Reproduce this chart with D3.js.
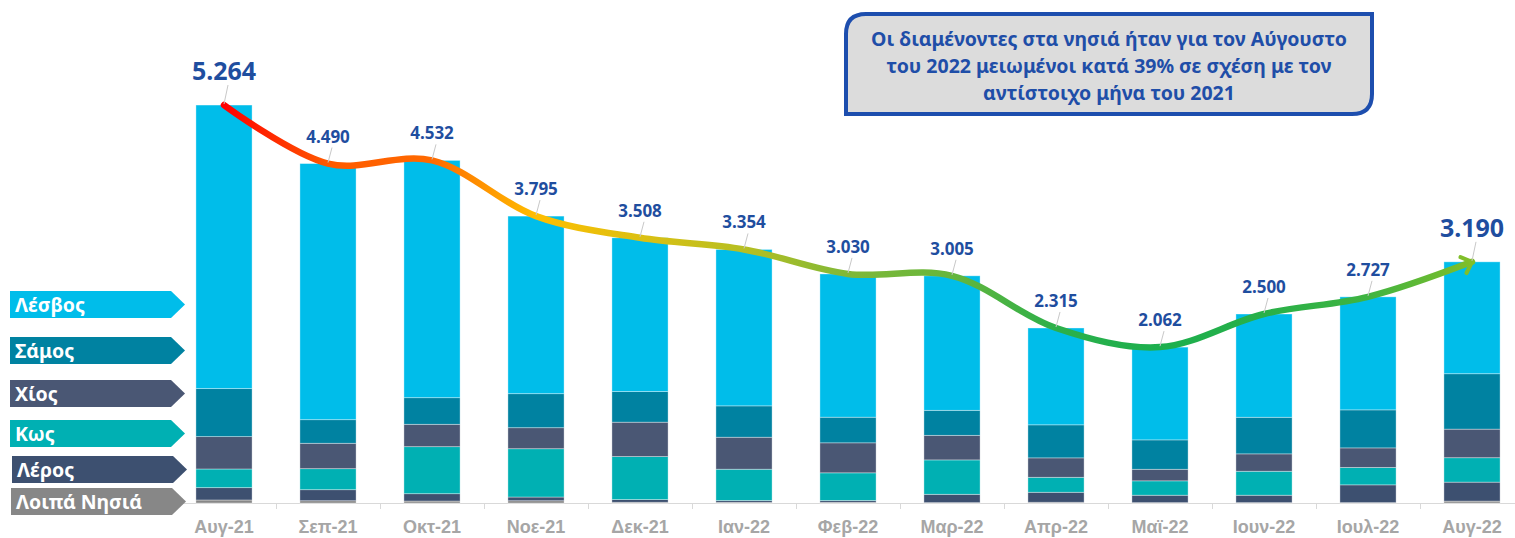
<!DOCTYPE html>
<meta charset="utf-8">
<title>Διαμένοντες στα νησιά</title>
<style>
html, body {
  margin: 0;
  padding: 0;
  width: 1515px;
  height: 538px;
  background: #fff;
  overflow: hidden;
}
svg {
  font-family: "Noto Sans", "Open Sans", sans-serif;
}
.axis text {
  fill: #a6a6a6;
  font-weight: bold;
  font-size: 18px;
}
.value {
  fill: #1f4e9f;
  font-weight: bold;
  text-anchor: middle;
}
.note text {
  fill: #1f4ea8;
  font-weight: bold;
  font-size: 19.5px;
  text-anchor: middle;
}
.tag text {
  fill: #fff;
  font-weight: bold;
  font-size: 19.5px;
}
</style>
<body>
<svg width="1515" height="538"></svg>
</body>
<script src="https://d3js.org/d3.v7.min.js"></script>
<script>

var months = ["Αυγ-21", "Σεπ-21", "Οκτ-21", "Νοε-21", "Δεκ-21", "Ιαν-22", "Φεβ-22",
              "Μαρ-22", "Απρ-22", "Μαϊ-22", "Ιουν-22", "Ιουλ-22", "Αυγ-22"];

// totals shown above the bars
var totals = [5264, 4490, 4532, 3795, 3508, 3354, 3030, 3005, 2315, 2062, 2500, 2727, 3190];

// per island (approx.)
var loipa  = [40, 30, 26, 30, 10, 10, 10, 5, 10, 5, 5, 5, 25];
var leros  = [163, 146, 97, 49, 35, 23, 23, 110, 132, 98, 98, 235, 251];
var kos    = [247, 278, 622, 639, 569, 414, 366, 455, 198, 190, 317, 230, 323];
var chios  = [428, 336, 296, 278, 455, 423, 397, 325, 257, 153, 230, 259, 378];
var samos  = [635, 312, 352, 450, 405, 415, 339, 331, 437, 389, 484, 503, 733];
var lesvos = [3751, 3388, 3139, 2349, 2034, 2069, 1895, 1779, 1281, 1227, 1366, 1495, 1480];

var islands = ["Λοιπά Νησιά", "Λέρος", "Κως", "Χίος", "Σάμος", "Λέσβος"];
var islandValues = [loipa, leros, kos, chios, samos, lesvos];
var colors = ["#878787", "#3d5070", "#00b0b3", "#4a5774", "#0082a1", "#00bdea"];

var noteLines = ["Οι διαμένοντες στα νησιά ήταν για τον Αύγουστο",
                 "του 2022 μειωμένοι κατά 39% σε σχέση με τον",
                 "αντίστοιχο μήνα του 2021"];

var svg = d3.select("svg");

var x = d3.scaleBand()
    .domain(months)
    .range([172, 1524])
    .paddingInner(0.46)
    .paddingOuter(0.23);

var y = d3.scaleLinear()
    .domain([0, 6000])
    .range([503, 49.4]);

var rows = months.map(function(m, i) {
  var r = {month: m};
  islands.forEach(function(k, j) { r[k] = islandValues[j][i]; });
  return r;
});

var series = d3.stack().keys(islands)(rows);

// axis
var axisG = svg.append("g")
    .attr("class", "axis")
    .attr("transform", "translate(0," + y(0) + ")")
    .call(d3.axisBottom(x).tickSize(0).tickPadding(17));
axisG.select(".domain").remove();

svg.append("line")
    .attr("x1", 172).attr("x2", 1524)
    .attr("y1", y(0) + 0.5).attr("y2", y(0) + 0.5)
    .attr("stroke", "#d9d9d9");

svg.append("g").selectAll("line")
  .data(months.slice(1))
  .enter().append("line")
    .attr("x1", function(d) { return Math.round(x(d) - x.step() * x.paddingInner() / 2) + 0.5; })
    .attr("x2", function(d) { return Math.round(x(d) - x.step() * x.paddingInner() / 2) + 0.5; })
    .attr("y1", y(0))
    .attr("y2", y(0) + 6)
    .attr("stroke", "#d9d9d9");

// stacked bars
svg.append("g").selectAll("g")
  .data(series)
  .enter().append("g")
    .attr("fill", function(d, i) { return colors[i]; })
  .selectAll("rect")
  .data(function(d) { return d; })
  .enter().append("rect")
    .attr("x", function(d) { return x(d.data.month); })
    .attr("width", x.bandwidth())
    .attr("y", function(d) { return y(d[1]); })
    .attr("height", function(d) { return y(d[0]) - y(d[1]); })
    .attr("stroke", "rgba(255,255,255,0.45)")
    .attr("stroke-width", 0.8);

// trend line with gradient
var cx = function(i) { return x(months[i]) + x.bandwidth() / 2; };

var gradStops = [
  [0, "#ff0000"], [1, "#ff5a00"], [2, "#ff6a00"], [3, "#ffbe00"], [4, "#dcc012"],
  [5, "#b6bf22"], [6, "#7fb838"], [7, "#66b63c"], [8, "#2cb04a"], [9, "#1caf4e"],
  [10, "#28b049"], [11, "#3fb441"], [12, "#80be2a"]
];

var defs = svg.append("defs");
var grad = defs.append("linearGradient")
    .attr("id", "trend")
    .attr("gradientUnits", "userSpaceOnUse")
    .attr("x1", cx(0)).attr("x2", cx(12))
    .attr("y1", 0).attr("y2", 0);
grad.selectAll("stop")
  .data(gradStops)
  .enter().append("stop")
    .attr("offset", function(d) { return (cx(d[0]) - cx(0)) / (cx(12) - cx(0)); })
    .attr("stop-color", function(d) { return d[1]; });

defs.append("marker")
    .attr("id", "arrow")
    .attr("viewBox", "-10 -10 20 20")
    .attr("refX", 0).attr("refY", 0)
    .attr("markerWidth", 26).attr("markerHeight", 26)
    .attr("markerUnits", "userSpaceOnUse")
    .attr("orient", "auto")
  .append("path")
    .attr("d", "M-7,-6.5 L0,0 L-7,6.5")
    .attr("fill", "none")
    .attr("stroke", "#80be2a")
    .attr("stroke-width", 3.2)
    .attr("stroke-linecap", "round")
    .attr("stroke-linejoin", "round");

var line = d3.line()
    .x(function(d, i) { return cx(i); })
    .y(function(d) { return y(d); })
    .curve(d3.curveCatmullRom.alpha(0.5));

svg.append("path")
    .datum(totals)
    .attr("d", line)
    .attr("fill", "none")
    .attr("stroke", "url(#trend)")
    .attr("stroke-width", 6.5)
    .attr("stroke-linecap", "round")
    .attr("marker-end", "url(#arrow)");

// value labels with leader lines
var big = function(i) { return i === 0 || i === months.length - 1; };

var labels = svg.append("g");
totals.forEach(function(v, i) {
  var ty = y(v) - (big(i) ? 25 : 21);
  labels.append("line")
      .attr("x1", cx(i) + 4).attr("y1", ty + 5)
      .attr("x2", cx(i)).attr("y2", y(v) - 1)
      .attr("stroke", "#c8c8c8")
      .attr("stroke-width", 1);
  labels.append("text")
      .attr("class", "value")
      .attr("x", cx(i))
      .attr("y", ty)
      .style("font-size", big(i) ? "25px" : "17px")
      .text(d3.format(",")(v).replace(",", "."));
});

// note box (rounded top-left and bottom-right corners)
var bx0 = 846, bx1 = 1372, by0 = 14, by1 = 114, r = 20;
var note = svg.append("g").attr("class", "note");
note.append("path")
    .attr("d", "M" + bx0 + "," + by1 + "V" + (by0 + r) +
               "Q" + bx0 + "," + by0 + " " + (bx0 + r) + "," + by0 +
               "H" + bx1 + "V" + (by1 - r) +
               "Q" + bx1 + "," + by1 + " " + (bx1 - r) + "," + by1 + "Z")
    .attr("fill", "#dcdcdc")
    .attr("stroke", "#1d4eae")
    .attr("stroke-width", 4);
note.selectAll("text")
  .data(noteLines)
  .enter().append("text")
    .attr("x", (bx0 + bx1) / 2)
    .attr("y", function(d, i) { return 46 + i * 27; })
    .text(function(d) { return d; });

// legend tags
var tagTop = [291, 337, 380, 420, 456, 488];
var tagLeft = [10, 10, 10, 10, 12, 11];
var tags = svg.append("g").attr("class", "tag");
islands.slice().reverse().forEach(function(name, i) {
  var c = colors[islands.length - 1 - i];
  var t = tagTop[i], l = tagLeft[i], h = 27;
  tags.append("path")
      .attr("d", "M" + l + "," + t + "H" + (l + 161) + "L" + (l + 175) + "," + (t + h / 2) +
                 "L" + (l + 161) + "," + (t + h) + "H" + l + "Z")
      .attr("fill", c);
  tags.append("text")
      .attr("x", l + 5)
      .attr("y", t + 21)
      .text(name);
});

</script>
